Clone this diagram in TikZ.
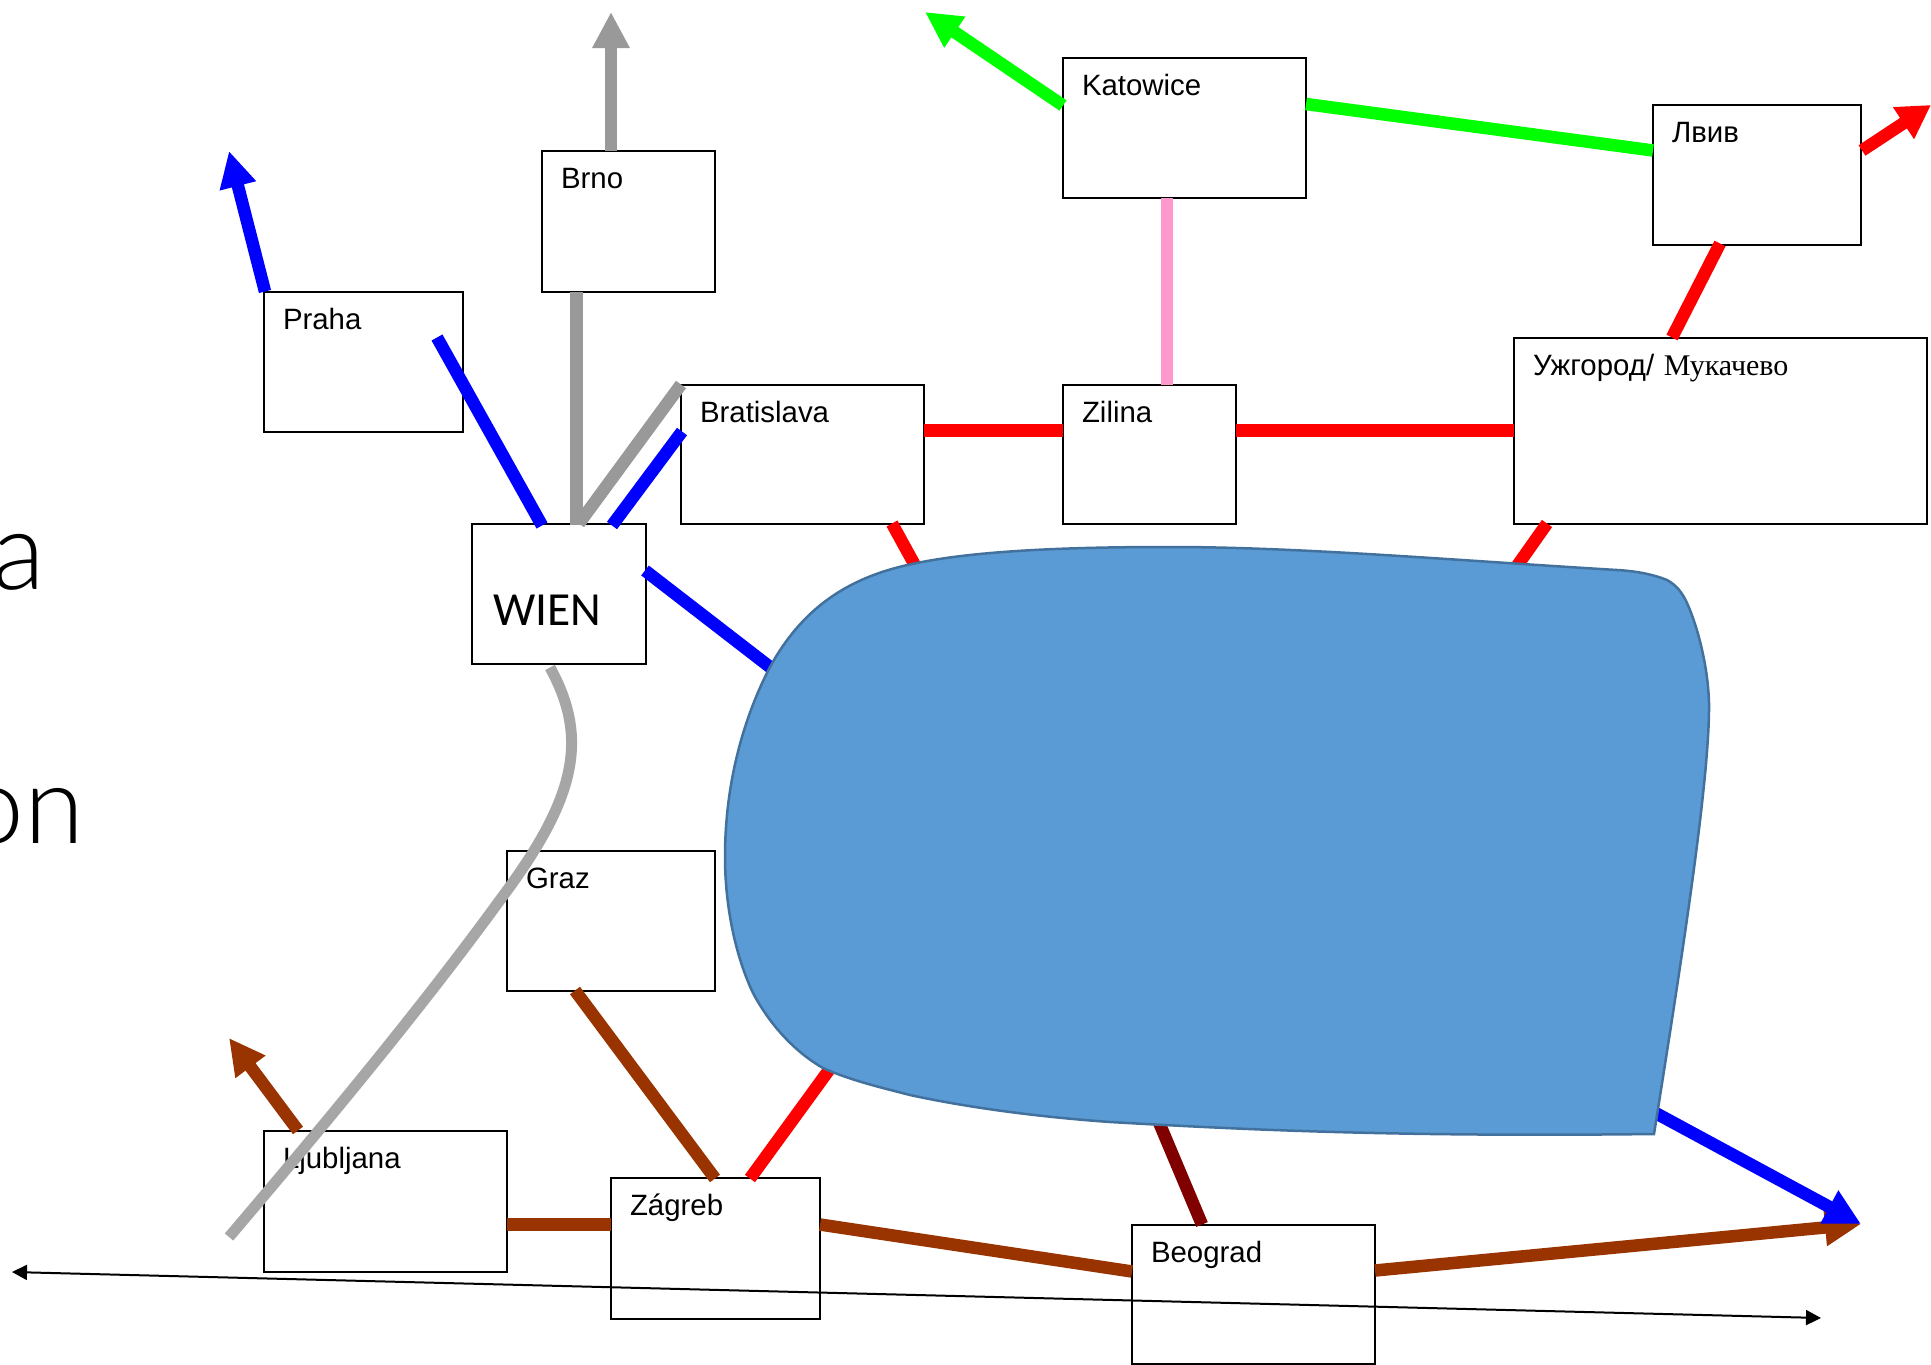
\documentclass[tikz,border=0pt]{standalone}
\usepackage{fontspec}
\setmainfont{Liberation Sans}
\newfontfamily\serifcyr{Liberation Serif}
\newfontfamily\calib{Carlito}
\newfontfamily\caliblight{Lato Light}
\usetikzlibrary{arrows.meta}
\definecolor{roadblue}{HTML}{0000FF}
\definecolor{roadred}{HTML}{FF0000}
\definecolor{roadgreen}{HTML}{00FF00}
\definecolor{roadpink}{HTML}{FF99CC}
\definecolor{roadgrey}{HTML}{999999}
\definecolor{curvegrey}{HTML}{A6A6A6}
\definecolor{roadbrown}{HTML}{993300}
\definecolor{roadmaroon}{HTML}{800000}
\definecolor{lakefill}{HTML}{5B9BD5}
\definecolor{lakeline}{HTML}{41719C}
\tikzset{
  citybox/.style={draw=black,line width=2pt,fill=white,inner sep=0pt,outer sep=0pt,anchor=north west},
  citytext/.style={inner sep=0pt,outer sep=0pt,anchor=base west,font=\fontsize{29.4}{32}\selectfont},
  road/.style={line width=12.5pt,line cap=butt},
  bighead/.style={-{Triangle[length=36pt,width=35pt]}},
  axis/.style={line width=2pt,black,{Triangle[length=15pt,width=15pt]}-{Triangle[length=15pt,width=15pt]}},
  bigtext/.style={inner sep=0pt,outer sep=0pt,anchor=base east,font=\caliblight\fontsize{109}{120}\selectfont}
}
\newcommand{\city}[6]{%
  \pgfmathsetmacro{\cw}{#4-#2}\pgfmathsetmacro{\ch}{#5-#3}%
  \node[citybox,minimum width=\cw pt,minimum height=\ch pt] (#1) at (#2,#3.5) {};
  \node[citytext] (#1-t) at ([shift={(19,37.5)}]#1.north west) {#6};
}
\begin{document}
\begin{tikzpicture}[x=1pt,y=-1pt]
\useasboundingbox (0,0) rectangle (1931,1365);
\fill[white] (0,0) rectangle (1931,1365);
\node[bigtext] (bigA) at (45,589) {a};
\node[bigtext] (bigB) at (84,843) {on};

\city{praha}{264}{291}{463}{431}{Praha}
\city{brno}{542}{150}{715}{291}{Brno}
\city{brat}{681}{384}{924}{523}{Bratislava}
\city{zil}{1063}{384}{1236}{523}{Zilina}
\city{kat}{1063}{57}{1306}{197}{Katowice}
\city{lviv}{1653}{104}{1861}{244}{Лвив}
\city{uzh}{1514}{337}{1927}{523}{Ужгород/\hspace{1.5pt} {\serifcyr\fontsize{30}{32}\selectfont Мукачево}}
\city{graz}{507}{850}{715}{990}{Graz}
\city{ljub}{264}{1130}{507}{1271}{Ljubljana}
\city{zag}{611}{1177}{820}{1318}{Zágreb}
\city{beo}{1132}{1224}{1375}{1363}{Beograd}
\node[citybox,minimum width=174pt,minimum height=140.5pt] (wien) at (472,523.5) {};
\node[inner sep=0pt,anchor=base west,font=\calib\fontsize{47.5}{48}\selectfont] (wien-t) at (493,625) {WIEN};

\coordinate (tipPraha) at (229,151);
\coordinate (tipBrno) at (611,12);
\coordinate (tipKat) at (925,12);
\coordinate (tipLviv) at (1931,105);
\coordinate (tipLjub) at (229,1038);
\coordinate (tipEast) at (1861,1224);
\coordinate (lakeW) at (788,681);
\coordinate (lakeBrat) at (917,569);
\coordinate (lakeUzh) at (1517,566);
\coordinate (lakeZag) at (837,1059);
\coordinate (lakeBeo) at (1158,1120);
\coordinate (lakeE) at (1650,1110);
\coordinate (curveEnd) at (229,1237);
\coordinate (axisW) at (12,1272);
\coordinate (axisE) at (1821,1318);

% blue and grey
\draw[road,roadblue,bighead] ([shift={(1,0)}]praha.north west) -- (tipPraha);
\draw[road,roadblue] ([shift={(173,46)}]praha.north west) -- ([shift={(70,2)}]wien.north west);
\draw[road,roadgrey,bighead] ([shift={(69,0)}]brno.north west) -- (tipBrno);
\draw[road,roadgrey] ([shift={(34.5,141)}]brno.north west) -- ([shift={(104.5,1)}]wien.north west);
\draw[road,roadgrey] ([shift={(107,0)}]wien.north west) -- (brat.north west);
\draw[road,roadblue] ([shift={(140,2)}]wien.north west) -- ([shift={(1,47)}]brat.north west);
\draw[road,roadblue] ([shift={(173,47)}]wien.north west) -- (lakeW);
% red, pink, green
\draw[road,roadred] ([shift={(243,46)}]brat.north west) -- ([shift={(0,46)}]zil.north west);
\draw[road,roadred] ([shift={(173,46)}]zil.north west) -- ([shift={(0,93)}]uzh.north west);
\draw[road,roadpink] ([shift={(104,140)}]kat.north west) -- ([shift={(104,0)}]zil.north west);
\draw[road,roadgreen,bighead] ([shift={(0,48)}]kat.north west) -- (tipKat);
\draw[road,roadgreen] ([shift={(243,46.5)}]kat.north west) -- ([shift={(0,46)}]lviv.north west);
\draw[road,roadred,-{Triangle[length=33pt,width=36pt]}] ([shift={(209,46)}]lviv.north west) -- (tipLviv);
\draw[road,roadred] ([shift={(67,139)}]lviv.north west) -- ([shift={(158,0)}]uzh.north west);
\draw[road,roadred] ([shift={(211,139)}]brat.north west) -- (lakeBrat);
\draw[road,roadred] ([shift={(33,186)}]uzh.north west) -- (lakeUzh);
\draw[road,roadred] ([shift={(139,1)}]zag.north west) -- (lakeZag);
\draw[road,roadmaroon] ([shift={(70,0)}]beo.north west) -- (lakeBeo);
% brown
\draw[road,roadbrown] ([shift={(68,140)}]graz.north west) -- ([shift={(104,1)}]zag.north west);
\draw[road,roadbrown,bighead] ([shift={(34,0)}]ljub.north west) -- (tipLjub);
\draw[road,roadbrown] ([shift={(243,94)}]ljub.north west) -- ([shift={(0,47)}]zag.north west);
\draw[road,roadbrown] ([shift={(209,47)}]zag.north west) -- ([shift={(0,47)}]beo.north west);
\draw[road,roadbrown,bighead] ([shift={(243,46)}]beo.north west) -- (tipEast);
\draw[road,roadblue,bighead] (lakeE) -- (tipEast);

% lake
\draw[fill=lakefill,draw=lakeline,line width=2.5pt]
  (1654,1134) .. controls (1400,1137) and (1250,1130) .. (1110,1122)
  .. controls (1040,1117) and (970,1108) .. (910,1095)
  .. controls (875,1086) and (850,1080) .. (823,1068)
  .. controls (795,1052) and (770,1025) .. (753,993)
  .. controls (735,955) and (725,905) .. (725,857)
  .. controls (725,780) and (745,715) .. (770,667)
  .. controls (805,603) and (855,575) .. (917,563)
  .. controls (985,549) and (1090,547) .. (1170,547)
  .. controls (1300,547) and (1450,560) .. (1617,570)
  .. controls (1635,571) and (1652,574) .. (1667,580)
  .. controls (1676,585) and (1682,592) .. (1687,603)
  .. controls (1697,625) and (1708,665) .. (1709,703)
  .. controls (1710,780) and (1680,970) .. (1654,1134) -- cycle;

\draw[line width=11pt,curvegrey] ([shift={(78,144)}]wien.north west)
  .. controls (590,740) and (575,800) .. (500,900)
  .. controls (420,1010) and (320,1130) .. (curveEnd);
\draw[axis] (axisW) -- (axisE);
\end{tikzpicture}
\end{document}
